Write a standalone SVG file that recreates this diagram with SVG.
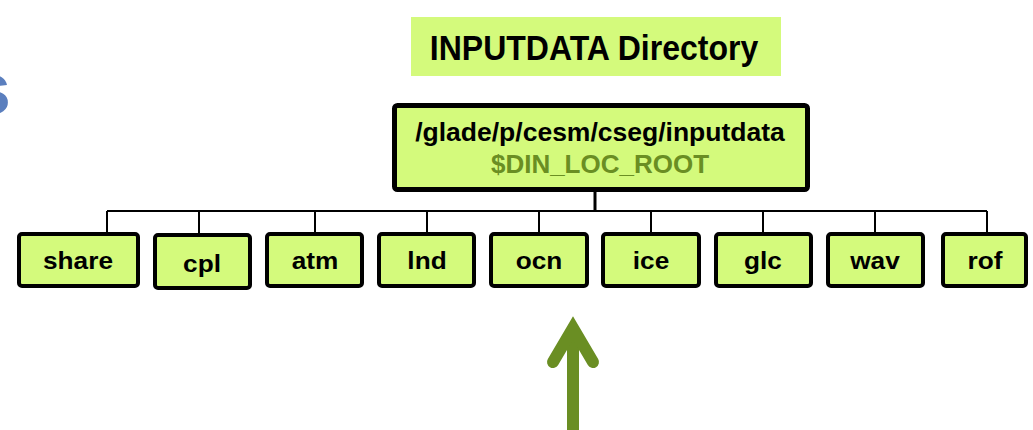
<svg xmlns="http://www.w3.org/2000/svg" width="1033" height="430" viewBox="0 0 1033 430">
  <style>
    text { font-family: "Liberation Sans", Arial, sans-serif; font-weight: bold; text-anchor: middle; }
    .box { fill: #d4fa7c; stroke: #000; stroke-width: 4; }
    .root { fill: #d4fa7c; stroke: #000; stroke-width: 5; }
    .lbl { font-size: 23px; fill: #000; }
    .wire { fill: none; stroke: #000; stroke-width: 2; }
  </style>

  <!-- partial heading letter at the left edge -->
  <text x="11" y="114" style="font-size:74px; fill:#5b7fbe; text-anchor:end;">s</text>

  <g id="title">
    <rect x="411" y="17" width="370" height="59" fill="#d4fa7c"/>
    <text transform="translate(594,60) scale(0.915,1)" style="font-size:35px;">INPUTDATA Directory</text>
  </g>

  <g id="connectors">
    <line class="wire" x1="595" y1="190" x2="595" y2="211" style="stroke-width:3"/>
    <line class="wire" x1="107" y1="211" x2="987" y2="211"/>
    <line class="wire" x1="107" y1="211" x2="107" y2="234"/>
    <line class="wire" x1="199" y1="211" x2="199" y2="235"/>
    <line class="wire" x1="315" y1="211" x2="315" y2="234"/>
    <line class="wire" x1="427" y1="211" x2="427" y2="234"/>
    <line class="wire" x1="539" y1="211" x2="539" y2="234"/>
    <line class="wire" x1="651" y1="211" x2="651" y2="234"/>
    <line class="wire" x1="763" y1="211" x2="763" y2="234"/>
    <line class="wire" x1="875" y1="211" x2="875" y2="234"/>
    <line class="wire" x1="987" y1="211" x2="987" y2="234"/>
  </g>

  <g id="root">
    <rect class="root" x="394.5" y="105.5" width="413" height="84" rx="3"/>
    <text x="600" y="141" style="font-size:26.5px;">/glade/p/cesm/cseg/inputdata</text>
    <text x="600" y="173" style="font-size:26px; fill:#6a8e23;">$DIN_LOC_ROOT</text>
  </g>

  <g id="share"><rect class="box" x="19" y="234" width="119" height="52" rx="3"/><text class="lbl" transform="translate(78,269) scale(1.14,1)">share</text></g>
  <g id="cpl"><rect class="box" x="155" y="235" width="95" height="53" rx="3"/><text class="lbl" transform="translate(202,272) scale(1.14,1)">cpl</text></g>
  <g id="atm"><rect class="box" x="267" y="234" width="95" height="52" rx="3"/><text class="lbl" transform="translate(315,269) scale(1.14,1)">atm</text></g>
  <g id="lnd"><rect class="box" x="379" y="234" width="95" height="52" rx="3"/><text class="lbl" transform="translate(427,269) scale(1.14,1)">lnd</text></g>
  <g id="ocn"><rect class="box" x="491" y="234" width="96" height="52" rx="3"/><text class="lbl" transform="translate(539,269) scale(1.14,1)">ocn</text></g>
  <g id="ice"><rect class="box" x="603" y="234" width="96" height="52" rx="3"/><text class="lbl" transform="translate(651,269) scale(1.14,1)">ice</text></g>
  <g id="glc"><rect class="box" x="716" y="234" width="95" height="52" rx="3"/><text class="lbl" transform="translate(763,269) scale(1.14,1)">glc</text></g>
  <g id="wav"><rect class="box" x="828" y="234" width="95" height="52" rx="3"/><text class="lbl" transform="translate(875,269) scale(1.14,1)">wav</text></g>
  <g id="rof"><rect class="box" x="943" y="234" width="83" height="52" rx="3"/><text class="lbl" transform="translate(985,269) scale(1.14,1)">rof</text></g>

  <!-- upward pointer below ocn -->
  <g id="pointer" stroke="#6a8e23" fill="none" stroke-width="12">
    <line x1="573" y1="330" x2="573" y2="430"/>
    <polyline points="553,362 573,328 593,362" stroke-linecap="round" stroke-linejoin="miter"/>
  </g>
</svg>
